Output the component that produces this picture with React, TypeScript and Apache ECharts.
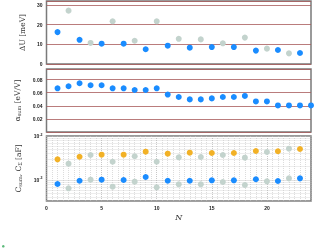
import React, { useEffect, useRef } from 'react';
import * as echarts from 'echarts';

const N_ODD = [1, 3, 5, 7, 9, 11, 13, 15, 17, 19, 21, 23];
const N_EVEN = [2, 4, 6, 8, 10, 12, 14, 16, 18, 20, 22];
const N_ALL = [1, 2, 3, 4, 5, 6, 7, 8, 9, 10, 11, 12, 13, 14, 15, 16, 17, 18, 19, 20, 21, 22, 23, 24];

const DU_ODD = [16.2, 12.3, 10.3, 10.3, 7.5, 9.3, 8.3, 8.6, 8.6, 6.8, 7.1, 5.6];
const DU_EVEN = [27.1, 10.7, 21.7, 11.8, 21.7, 12.8, 12.5, 10.5, 13.4, 7.8, 5.4];

const ALPHA = [0.0666, 0.0697, 0.0743, 0.0712, 0.0712, 0.0666, 0.0666, 0.064, 0.064, 0.0666, 0.057, 0.0533,
  0.0497, 0.0497, 0.0512, 0.0533, 0.0533, 0.055, 0.0466, 0.0466, 0.0405, 0.0405, 0.0405, 0.0405];

const CSIG_ODD = [2.95e-3, 3.38e-3, 3.76e-3, 3.76e-3, 4.4e-3, 3.96e-3, 4.17e-3, 4.11e-3, 4.11e-3, 4.56e-3, 4.5e-3, 5.07e-3];
const CSIG_EVEN = [2.35e-3, 3.7e-3, 2.6e-3, 3.46e-3, 2.6e-3, 3.28e-3, 3.33e-3, 3.7e-3, 3.21e-3, 4.33e-3, 5.14e-3];
const CSUM_ODD = [8.1e-4, 9.6e-4, 1.015e-3, 1.0e-3, 1.17e-3, 9.6e-4, 9.6e-4, 9.84e-4, 9.84e-4, 1.04e-3, 9.48e-4, 1.09e-3];
const CSUM_EVEN = [6.47e-4, 1.015e-3, 7.05e-4, 9.15e-4, 6.82e-4, 7.97e-4, 7.97e-4, 9.0e-4, 7.7e-4, 9.33e-4, 1.09e-3];

const X_TICKS = [0, 5, 10, 15, 20];

const BLUE = '#1a8cff';
const GRAY = '#c3d3cd';
const ORANGE = '#f2b126';

const pair = (xs: number[], ys: number[]) => xs.map((x, i) => [x, ys[i]]);

export default function App() {
  const ref = useRef<HTMLDivElement>(null);
  useEffect(() => {
    if (!ref.current) return;
    const chart = echarts.init(ref.current, null, { renderer: 'svg' });
    const border = { show: true, borderColor: '#7a7a7a', borderWidth: 1.5, left: 46.5, right: 3 };
    const labelStyle = { fontSize: 5, fontWeight: 'bold' as const, color: '#222', fontFamily: 'Liberation Sans' };
    const nameStyle = {
      fontSize: 7.5, color: '#333', fontFamily: 'DejaVu Serif',
      rich: { s: { fontSize: 5, fontFamily: 'DejaVu Serif', color: '#333', verticalAlign: 'bottom' as const, padding: [4, 0, 0, 0] } },
    };
    const redLine = { show: true, lineStyle: { color: '#a85a5a', width: 0.8 } };
    const xBase = (i: number) => ({
      type: 'value' as const, gridIndex: i, min: 0, max: 24, interval: 5,
      axisLine: { show: false }, axisTick: { show: false },
      axisLabel: { show: false }, splitLine: { show: false },
    });
    const sym = (color: string) => ({ color, opacity: 1 });
    const minorLine = { show: true, lineStyle: { color: '#c4c4c4', width: 0.6, type: [1, 1] as any } };
    chart.setOption({
      animation: false,
      grid: [
        { ...border, top: 1, height: 63 },
        { ...border, top: 69, height: 63 },
        { ...border, top: 136, height: 65 },
      ],
      xAxis: [
        xBase(0),
        xBase(1),
        {
          ...xBase(2),
          axisLabel: {
            show: true, ...labelStyle, margin: 4,
            formatter: (v: number) => (X_TICKS.includes(v) ? String(v) : ''),
          },
          splitLine: { show: true, lineStyle: { color: '#b0b0b0', width: 0.7, type: [1, 1] as any } },
          minorTick: { show: false, splitNumber: 10 },
          minorSplitLine: minorLine,
          name: 'N', nameLocation: 'middle', nameGap: 12,
          nameTextStyle: { fontSize: 8, fontStyle: 'italic', fontFamily: 'DejaVu Serif', color: '#333' },
        },
      ],
      yAxis: [
        {
          type: 'value', gridIndex: 0, min: 0, max: 32, interval: 10,
          axisLine: { show: false }, axisTick: { show: false },
          axisLabel: { ...labelStyle, margin: 4, formatter: (v: number) => (v % 10 === 0 ? String(v) : '') },
          splitLine: redLine,
          name: 'ΔU [meV]', nameLocation: 'middle', nameGap: 13, nameTextStyle: nameStyle,
        },
        {
          type: 'value', gridIndex: 1, min: 0, max: 0.096, interval: 0.02,
          axisLine: { show: false }, axisTick: { show: false },
          axisLabel: {
            ...labelStyle, margin: 4,
            formatter: (v: number) => (v > 0.001 && Math.abs(v / 0.02 - Math.round(v / 0.02)) < 1e-6 ? v.toFixed(2) : ''),
          },
          splitLine: redLine,
          name: 'α{s|sum} [eV/V]', nameLocation: 'middle', nameGap: 17, nameTextStyle: nameStyle,
        },
        {
          type: 'log', logBase: 10, gridIndex: 2, min: 3.33e-4, max: 0.01,
          axisLine: { show: false }, axisTick: { show: false },
          axisLabel: {
            ...labelStyle, margin: 4,
            formatter: (v: number) => {
              const e = Math.log10(v);
              if (Math.abs(e - Math.round(e)) > 1e-6) return '';
              return '{b|10}{u|' + Math.round(e) + '}';
            },
            rich: {
              b: { fontSize: 5, fontWeight: 'bold', color: '#222', fontFamily: 'Liberation Sans' },
              u: { fontSize: 3.5, fontWeight: 'bold', color: '#222', fontFamily: 'Liberation Sans', verticalAlign: 'top', padding: [0, 0, 3, 0] },
            },
          },
          splitLine: { show: true, lineStyle: { color: '#b0b0b0', width: 0.7, type: [1, 1] as any } },
          minorTick: { show: false, splitNumber: 9 },
          minorSplitLine: minorLine,
          name: 'C{s|sum}, C{s|Σ} [aF]', nameLocation: 'middle', nameGap: 16, nameTextStyle: nameStyle,
        },
      ],
      series: [
        { type: 'scatter', xAxisIndex: 0, yAxisIndex: 0, symbolSize: 6, itemStyle: sym(GRAY), data: pair(N_EVEN, DU_EVEN) },
        { type: 'scatter', xAxisIndex: 0, yAxisIndex: 0, symbolSize: 6, itemStyle: sym(BLUE), data: pair(N_ODD, DU_ODD) },
        { type: 'scatter', xAxisIndex: 1, yAxisIndex: 1, symbolSize: 6, itemStyle: sym(BLUE), data: pair(N_ALL, ALPHA) },
        { type: 'scatter', xAxisIndex: 2, yAxisIndex: 2, symbolSize: 6, itemStyle: sym(GRAY), data: pair(N_EVEN, CSIG_EVEN) },
        { type: 'scatter', xAxisIndex: 2, yAxisIndex: 2, symbolSize: 6, itemStyle: sym(ORANGE), data: pair(N_ODD, CSIG_ODD) },
        { type: 'scatter', xAxisIndex: 2, yAxisIndex: 2, symbolSize: 6, itemStyle: sym(GRAY), data: pair(N_EVEN, CSUM_EVEN) },
        { type: 'scatter', xAxisIndex: 2, yAxisIndex: 2, symbolSize: 6, itemStyle: sym(BLUE), data: pair(N_ODD, CSUM_ODD) },
      ],
      graphic: [
        { type: 'circle', left: 2, top: 245, shape: { r: 1.3 }, style: { fill: '#5cba7a' } },
      ],
    });
    return () => chart.dispose();
  }, []);
  return <div ref={ref} style={{ position: 'fixed', left: 0, top: 0, width: 314, height: 251 }} />;
}
